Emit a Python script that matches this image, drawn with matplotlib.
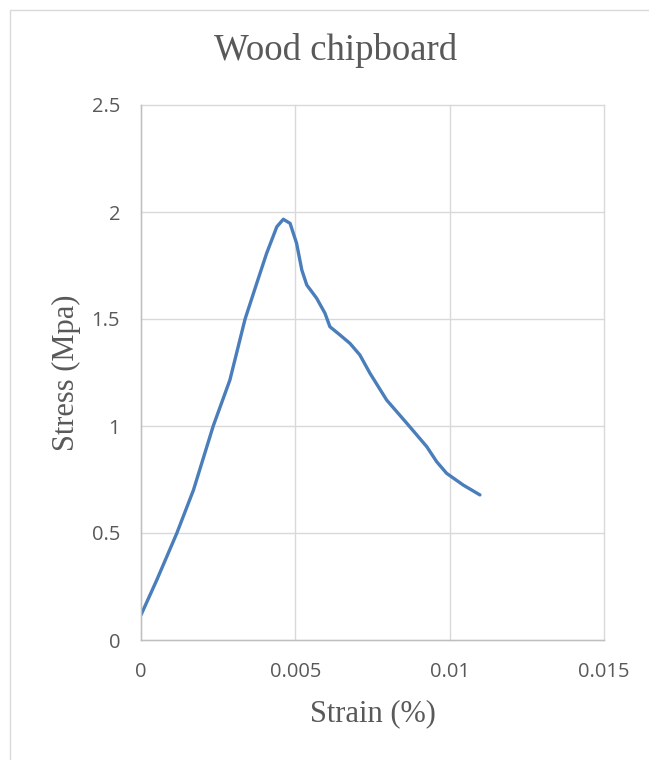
import matplotlib
matplotlib.use("Agg")
import matplotlib.pyplot as plt
from matplotlib.patches import Rectangle

# strain / stress
strain = [0.0, 0.00051, 0.00116, 0.0017, 0.00234, 0.00288, 0.00337, 0.00375,
          0.00407, 0.0044, 0.00461, 0.00483, 0.00504, 0.00521, 0.00537,
          0.00569, 0.00596, 0.00612, 0.00645, 0.00677, 0.00709, 0.00742,
          0.00796, 0.00861, 0.00926, 0.00958, 0.0099, 0.01044, 0.01098]
stress = [0.117, 0.280, 0.499, 0.701, 1.0, 1.215, 1.499, 1.667,
          1.807, 1.931, 1.966, 1.947, 1.854, 1.729, 1.659,
          1.597, 1.527, 1.464, 1.425, 1.386, 1.332, 1.246,
          1.121, 1.013, 0.903, 0.833, 0.779, 0.724, 0.678]

x_ticks = [0, 0.005, 0.01, 0.015]
x_labels = ["0", "0.005", "0.01", "0.015"]
y_ticks = [0, 0.5, 1, 1.5, 2, 2.5]
y_labels = ["0", "0.5", "1", "1.5", "2", "2.5"]

grey = "#595959"
grid = "#d9d9d9"
W, H = 649, 760

fig = plt.figure(figsize=(W / 100, H / 100), dpi=100)
# chart-area border (only left and top edges are inside the crop)
fig.patches.append(Rectangle((10 / W, -0.1), 1.2, (H - 10) / H + 0.1,
                             transform=fig.transFigure, fill=False,
                             edgecolor=grid, linewidth=1.0))

ax = fig.add_axes([141 / W, 1 - 640 / H, 463 / W, 535 / H])
ax.plot(strain, stress, color="#4a7ebb", linewidth=2.4,
        solid_capstyle="round", solid_joinstyle="round")

ax.set_xlim(0, 0.015)
ax.set_ylim(0, 2.5)
ax.set_xticks(x_ticks)
ax.set_xticklabels(x_labels)
ax.set_yticks(y_ticks)
ax.set_yticklabels(y_labels)
ax.grid(True, color=grid, linewidth=1.0)
ax.set_axisbelow(True)
for gl in ax.get_xgridlines() + ax.get_ygridlines():
    gl.set_clip_on(False)

for side in ["top", "right"]:
    ax.spines[side].set_visible(False)
for side in ["left", "bottom"]:
    ax.spines[side].set_color("#bfbfbf")
    ax.spines[side].set_linewidth(1.0)

ax.tick_params(length=0, labelsize=14.5, labelcolor=grey)
ax.tick_params(axis="x", pad=16)
ax.tick_params(axis="y", pad=15)
for lbl in ax.get_xticklabels() + ax.get_yticklabels():
    lbl.set_family("Open Sans")

fig.text(373 / W, 1 - 714 / H, "Strain (%)", family="Liberation Serif",
         fontsize=22, color=grey, ha="center", va="center")
fig.text(66 / W, 1 - 373 / H, "Stress (Mpa)", family="Liberation Serif",
         fontsize=22, color=grey, ha="center", va="center", rotation=90)
fig.text(336 / W, 1 - 50 / H, "Wood chipboard", family="Liberation Serif",
         fontsize=26.5, color=grey, ha="center", va="center")

fig.savefig("out.png", dpi=100)
